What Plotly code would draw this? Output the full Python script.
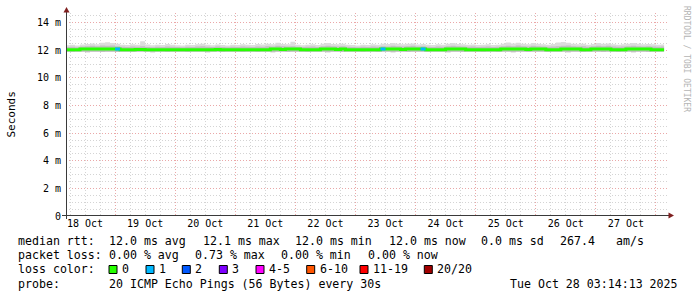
import pandas as pd
import plotly.graph_objects as go

# ---- data (values in ms, 2-hour bins starting 18 Oct 04:00) ----
bin_start = "2025-10-18 04:00"
bin_hours = 2
median_ms = [
    12.03, 12.03, 12.03, 12.09, 12.09, 12.09, 12.09, 12.09, 12.09, 12.09, 12.09, 12.03,
    12.03, 12.03, 12.06, 12.06, 12.03, 12.03, 12.03, 12.03, 12.03, 12.03, 12.03, 12.03,
    12.03, 12.03, 12.03, 12.03, 12.03, 12.03, 12.06, 12.03, 12.03, 12.03, 12.03, 12.03,
    12.03, 12.03, 12.03, 12.03, 12.03, 12.09, 12.09, 12.06, 12.09, 12.09, 12.09, 12.03,
    12.03, 12.03, 12.03, 12.09, 12.09, 12.09, 12.06, 12.09, 12.03, 12.03, 12.03, 12.03,
    12.03, 12.03, 12.03, 12.09, 12.09, 12.09, 12.09, 12.06, 12.09, 12.09, 12.09, 12.09,
    12.03, 12.03, 12.03, 12.03, 12.09, 12.09, 12.09, 12.09, 12.03, 12.03, 12.03, 12.03,
    12.03, 12.03, 12.03, 12.09, 12.09, 12.09, 12.09, 12.09, 12.06, 12.09, 12.09, 12.09,
    12.03, 12.03, 12.03, 12.09, 12.09, 12.09, 12.09, 12.03, 12.03, 12.09, 12.09, 12.09,
    12.09, 12.03, 12.03, 12.03, 12.09, 12.09, 12.09, 12.09, 12.09, 12.03, 12.03, 12.03,
]
loss_pings = [0] * 120
loss_events = {10: 1, 63: 1, 71: 1}
smoke_lo = [
    11.90, 11.88, 11.90, 11.90, 11.86, 11.90, 11.90, 11.88, 11.90, 11.90, 11.88, 11.90,
    11.90, 11.88, 11.90, 11.90, 11.90, 11.86, 11.90, 11.90, 11.88, 11.90, 11.90, 11.90,
    11.88, 11.90, 11.90, 11.90, 11.86, 11.90, 11.90, 11.88, 11.90, 11.90, 11.90, 11.88,
    11.90, 11.90, 11.88, 11.90, 11.90, 11.86, 11.90, 11.90, 11.88, 11.90, 11.90, 11.90,
    11.88, 11.90, 11.90, 11.90, 11.86, 11.90, 11.90, 11.88, 11.90, 11.90, 11.90, 11.88,
    11.90, 11.90, 11.88, 11.90, 11.90, 11.86, 11.90, 11.90, 11.88, 11.90, 11.90, 11.90,
    11.88, 11.90, 11.90, 11.90, 11.86, 11.90, 11.90, 11.88, 11.90, 11.90, 11.90, 11.88,
    11.90, 11.90, 11.88, 11.90, 11.90, 11.86, 11.90, 11.90, 11.88, 11.90, 11.90, 11.90,
    11.88, 11.90, 11.90, 11.90, 11.86, 11.90, 11.90, 11.88, 11.90, 11.90, 11.90, 11.88,
    11.90, 11.90, 11.88, 11.90, 11.90, 11.86, 11.90, 11.90, 11.88, 11.90, 11.90, 11.90,
]
smoke_hi = [
    12.24, 12.26, 12.22, 12.28, 12.30, 12.32, 12.30, 12.34, 12.32, 12.34, 12.30, 12.26,
    12.24, 12.28, 12.26, 12.30, 12.24, 12.22, 12.26, 12.24, 12.28, 12.26, 12.24, 12.22,
    12.26, 12.24, 12.28, 12.30, 12.26, 12.24, 12.28, 12.24, 12.22, 12.26, 12.24, 12.28,
    12.26, 12.24, 12.28, 12.26, 12.30, 12.28, 12.32, 12.30, 12.28, 12.30, 12.26, 12.24,
    12.26, 12.28, 12.24, 12.30, 12.32, 12.30, 12.28, 12.30, 12.26, 12.24, 12.22, 12.26,
    12.24, 12.28, 12.26, 12.30, 12.28, 12.32, 12.30, 12.28, 12.30, 12.32, 12.28, 12.30,
    12.26, 12.24, 12.28, 12.26, 12.30, 12.32, 12.30, 12.28, 12.26, 12.28, 12.24, 12.26,
    12.28, 12.24, 12.26, 12.30, 12.32, 12.30, 12.34, 12.30, 12.28, 12.32, 12.30, 12.28,
    12.26, 12.28, 12.30, 12.32, 12.34, 12.30, 12.28, 12.30, 12.26, 12.30, 12.32, 12.30,
    12.32, 12.28, 12.26, 12.28, 12.30, 12.32, 12.30, 12.28, 12.30, 12.28, 12.26, 12.28,
]
smoke_top = [
    12.36, 12.40, 12.34, 12.42, 12.46, 12.50, 12.44, 12.54, 12.58, 12.52, 12.48, 12.40,
    12.38, 12.44, 12.40, 12.66, 12.42, 12.36, 12.40, 12.38, 12.46, 12.40, 12.36, 12.34,
    12.40, 12.38, 12.44, 12.48, 12.40, 12.36, 12.42, 12.38, 12.34, 12.40, 12.38, 12.44,
    12.40, 12.38, 12.46, 12.42, 12.48, 12.44, 12.54, 12.46, 12.44, 12.62, 12.40, 12.36,
    12.40, 12.44, 12.38, 12.48, 12.52, 12.46, 12.44, 12.48, 12.40, 12.38, 12.34, 12.40,
    12.38, 12.44, 12.40, 12.48, 12.46, 12.52, 12.48, 12.44, 12.48, 12.50, 12.42, 12.46,
    12.40, 12.38, 12.44, 12.40, 12.48, 12.52, 12.46, 12.44, 12.40, 12.42, 12.38, 12.40,
    12.44, 12.38, 12.40, 12.48, 12.56, 12.50, 12.54, 12.48, 12.44, 12.52, 12.48, 12.44,
    12.40, 12.46, 12.56, 12.60, 12.54, 12.48, 12.44, 12.48, 12.40, 12.46, 12.52, 12.48,
    12.50, 12.44, 12.40, 12.44, 12.48, 12.52, 12.48, 12.44, 12.46, 12.44, 12.40, 12.42,
]
y_tick_vals = [0, 2, 4, 6, 8, 10, 12, 14]
y_tick_text = ["0", "2 m", "4 m", "6 m", "8 m", "10 m", "12 m", "14 m"]
x_range = ["2025-10-18 04:24", "2025-10-28 04:24"]
data_end = "2025-10-28 03:14:13"

loss_labels = ["0", "1", "2", "3", "4-5", "6-10", "11-19", "20/20"]
loss_colors = ["#26ff00", "#00b8ff", "#0059ff", "#7e00ff", "#ff00ff", "#ff5500", "#ff0000", "#a10000"]

row_median = ["median rtt:", "12.0 ms avg", "12.1 ms max", "12.0 ms min", "12.0 ms now", "0.0 ms sd", "267.4", "am/s"]
row_loss = ["packet loss:", "0.00 % avg", "0.73 % max", "0.00 % min", "0.00 % now"]
probe_text = ["probe:", "20 ICMP Echo Pings (56 Bytes) every 30s"]
stamp_text = "Tue Oct 28 03:14:13 2025"

for k, v in loss_events.items():
    loss_pings[k] = v

# ---- build ----
times = list(pd.date_range(bin_start, periods=len(median_ms), freq=f"{bin_hours}h"))
t_ext = times + [pd.Timestamp(data_end)]
def ext(a):
    return list(a) + [a[-1]]

W, H = 697, 297
L, R, T, B = 66, 30, 13, 81
PW, PH = W - L - R, H - T - B
def px(x):
    return (x - L) / PW
def py(y):
    return (H - B - y) / PH

fig = go.Figure()
fig.add_trace(go.Scatter(x=t_ext, y=ext(smoke_lo), mode="lines", line=dict(width=0, shape="hv"),
                         showlegend=False, hoverinfo="skip"))
fig.add_trace(go.Scatter(x=t_ext, y=ext(smoke_top), mode="lines", line=dict(width=0, shape="hv"),
                         fill="tonexty", fillcolor="#dcdcdc", showlegend=False, hoverinfo="skip"))
fig.add_trace(go.Scatter(x=t_ext, y=ext(smoke_lo), mode="lines", line=dict(width=0, shape="hv"),
                         showlegend=False, hoverinfo="skip"))
fig.add_trace(go.Scatter(x=t_ext, y=ext(smoke_hi), mode="lines", line=dict(width=0, shape="hv"),
                         fill="tonexty", fillcolor="#c0c0c0", showlegend=False, hoverinfo="skip"))
fig.add_trace(go.Scatter(x=t_ext, y=ext(median_ms), mode="lines",
                         line=dict(width=3, shape="hv", color=loss_colors[0]),
                         showlegend=False, hoverinfo="skip"))
for i, lp in enumerate(loss_pings):
    if lp > 0:
        fig.add_trace(go.Scatter(x=[t_ext[i], t_ext[i + 1]], y=[median_ms[i], median_ms[i]], mode="lines",
                                 line=dict(width=3, color=loss_colors[min(lp, 7)]),
                                 showlegend=False, hoverinfo="skip"))

major_grid = "#eaa8a8"
minor_grid = "#d4d4d4"
mono = "DejaVu Sans Mono"

fig.update_layout(
    width=W, height=H, margin=dict(l=L, r=R, t=T, b=B),
    paper_bgcolor="white", plot_bgcolor="white",
    font=dict(family=mono, size=10, color="#000000"),
    xaxis=dict(
        type="date", range=x_range, tick0="2025-10-18", dtick=86400000,
        ticklabelmode="period", tickformat="%d %b", showgrid=True,
        gridcolor=major_grid, griddash="1px,2px", gridwidth=1,
        ticks="", showline=False, zeroline=False, tickfont=dict(family=mono, size=10),
        minor=dict(dtick=21600000, tick0="2025-10-18", showgrid=True, gridcolor=minor_grid,
                   griddash="1px,2px", gridwidth=1),
        fixedrange=True,
    ),
    yaxis=dict(
        range=[0, 14.7], tickvals=y_tick_vals, ticktext=y_tick_text, showgrid=True,
        gridcolor=major_grid, griddash="1px,2px", gridwidth=1, ticks="", showline=False,
        zeroline=False, tickfont=dict(family=mono, size=10), ticklabelstandoff=4,
        minor=dict(dtick=0.5, showgrid=True, gridcolor=minor_grid, griddash="1px,2px", gridwidth=1),
        fixedrange=True,
    ),
)

axis_col = "#3a3a3a"
arrow_col = "#7f1f1f"
shapes = []
# y axis line with arrow
shapes.append(dict(type="line", xref="paper", yref="paper", x0=px(66.5), x1=px(66.5), y0=py(219), y1=py(11),
                   line=dict(color=axis_col, width=1)))
shapes.append(dict(type="path", xref="paper", yref="paper",
                   path=f"M {px(63.5)} {py(12.5)} L {px(69.5)} {py(12.5)} L {px(66.5)} {py(7)} Z",
                   fillcolor=arrow_col, line=dict(width=0)))
# x axis line with arrow
shapes.append(dict(type="line", xref="paper", yref="paper", x0=px(62), x1=px(669), y0=py(215.5), y1=py(215.5),
                   line=dict(color=axis_col, width=1)))
shapes.append(dict(type="path", xref="paper", yref="paper",
                   path=f"M {px(668.5)} {py(212.5)} L {px(668.5)} {py(218.5)} L {px(674)} {py(215.5)} Z",
                   fillcolor=arrow_col, line=dict(width=0)))

annots = []
def txt(x, y, s, anchor="left", size=11.6, color="#000000", angle=0, family=mono):
    annots.append(dict(x=px(x), y=py(y), xref="paper", yref="paper", text=s, showarrow=False,
                       xanchor=anchor, yanchor="middle", textangle=angle,
                       font=dict(family=family, size=size, color=color)))

txt(11, 114.5, "Seconds", anchor="center", size=11, angle=-90)
txt(686, 59, "RRDTOOL / TOBI OETIKER", anchor="center", size=8, color="#b4b4b4", angle=90)

med_x = [16, 107, 201, 293, 387, 479, 558, 614]
for x, s in zip(med_x, row_median):
    txt(x, 241, s)
loss_x = [16, 107, 193.3, 279.3, 365.7]
for x, s in zip(loss_x, row_loss):
    txt(x, 255, s)
txt(16, 269, "loss color:")
box_x = [109, 146, 182.3, 219.3, 256, 306.7, 360, 424.3]
for bx, lab, col in zip(box_x, loss_labels, loss_colors):
    shapes.append(dict(type="rect", xref="paper", yref="paper", x0=px(bx), x1=px(bx + 8),
                       y0=py(273.5), y1=py(265.5), fillcolor=col, line=dict(color="#000000", width=1)))
    txt(bx + 11, 269, lab)
txt(16, 283.5, probe_text[0])
txt(107, 283.5, probe_text[1])
txt(680, 283.5, stamp_text, anchor="right")

fig.update_layout(shapes=shapes, annotations=annots)
fig.write_html("out.html")
